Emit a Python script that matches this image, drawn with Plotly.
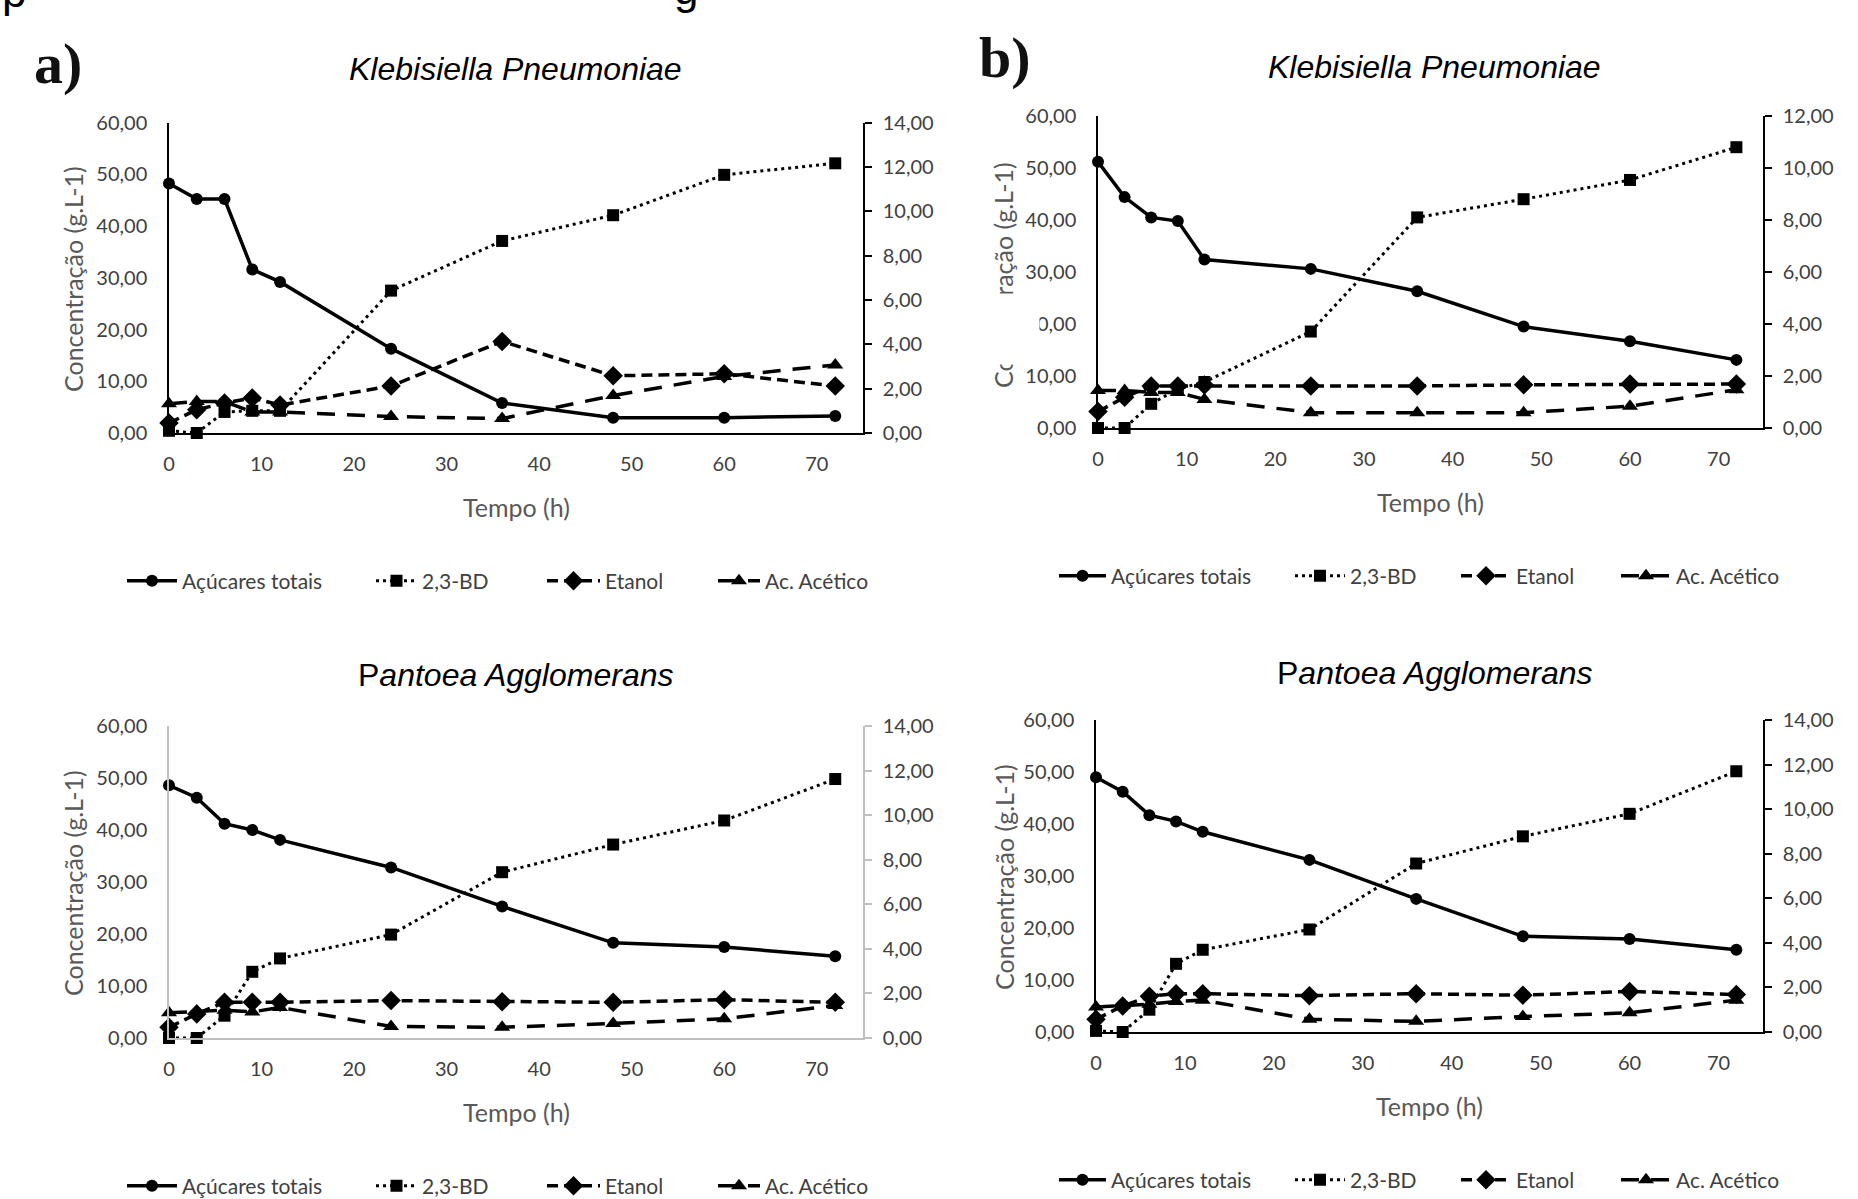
import plotly.graph_objects as go

W, H = 1858, 1199

# ---------------- data ----------------
tempo = [0, 3, 6, 9, 12, 24, 36, 48, 60, 72]
x_ticks = [0, 10, 20, 30, 40, 50, 60, 70]
series_names = ["Açúcares totais", "2,3-BD", "Etanol", "Ac. Acético"]

# a) Klebisiella Pneumoniae
a_acucares = [48.2, 45.2, 45.2, 31.6, 29.2, 16.3, 5.8, 2.95, 2.95, 3.3]
a_bd = [0.1, 0.0, 0.95, 1.0, 1.0, 6.42, 8.66, 9.82, 11.64, 12.16]
a_etanol = [0.45, 1.05, 1.35, 1.58, 1.26, 2.12, 4.13, 2.58, 2.67, 2.12]
a_acetico = [1.32, 1.42, 1.42, 0.95, 0.95, 0.74, 0.65, 1.69, 2.55, 3.07]

# b) Klebisiella Pneumoniae
b_acucares = [51.2, 44.4, 40.5, 39.8, 32.4, 30.6, 26.3, 19.5, 16.7, 13.1]
b_bd = [0.0, 0.0, 0.93, 1.5, 1.77, 3.71, 8.1, 8.8, 9.54, 10.8]
b_etanol = [0.63, 1.18, 1.62, 1.62, 1.65, 1.62, 1.62, 1.66, 1.69, 1.69]
b_acetico = [1.44, 1.44, 1.37, 1.37, 1.1, 0.59, 0.59, 0.59, 0.84, 1.47]

# c) Pantoea Agglomerans
c_acucares = [48.6, 46.2, 41.2, 40.0, 38.1, 32.8, 25.3, 18.3, 17.5, 15.7]
c_bd = [0.0, 0.0, 1.0, 2.97, 3.57, 4.64, 7.44, 8.68, 9.76, 11.62]
c_etanol = [0.48, 1.08, 1.6, 1.6, 1.6, 1.68, 1.63, 1.6, 1.72, 1.6]
c_acetico = [1.13, 1.2, 1.25, 1.17, 1.37, 0.52, 0.48, 0.65, 0.86, 1.46]

# d) Pantoea Agglomerans
d_acucares = [49.0, 46.2, 41.7, 40.5, 38.5, 33.1, 25.6, 18.4, 17.9, 15.8]
d_bd = [0.05, 0.0, 1.0, 3.06, 3.69, 4.6, 7.56, 8.78, 9.79, 11.7]
d_etanol = [0.57, 1.17, 1.6, 1.72, 1.72, 1.63, 1.72, 1.65, 1.82, 1.68]
d_acetico = [1.12, 1.2, 1.25, 1.37, 1.43, 0.57, 0.48, 0.69, 0.86, 1.43]

titles = ["<i>Klebisiella Pneumoniae</i>", "<i>Klebisiella Pneumoniae</i>",
          "P<i>antoea Agglomerans</i>", "P<i>antoea Agglomerans</i>"]
right_max = [14, 12, 14, 14]

panel_data = [
    [a_acucares, a_bd, a_etanol, a_acetico],
    [b_acucares, b_bd, b_etanol, b_acetico],
    [c_acucares, c_bd, c_etanol, c_acetico],
    [d_acucares, d_bd, d_etanol, d_acetico],
]

# ---------------- layout geometry (pixels) ----------------
# (x_left, x_right, y_zero, y_top)
panels_px = [
    (169, 863, 433, 122.5),
    (1098, 1763, 428, 116),
    (169, 863, 1038, 726),
    (1096, 1763, 1032, 720),
]
axis_colors = ["#000000", "#000000", "#BFBFBF", "#000000"]
title_pos = [(515, 69), (1434, 67), (515, 675), (1434, 673)]
ytitle_x = [73, 1003, 73, 1004]
ytitle_y = [279, 275, 883, 877]
xtitle_y = [507, 502, 1112, 1106]
legend_y = [581, 576, 1186, 1180]
legend_marker_x = [[142, 391, 562, 733], [1074, 1310, 1476, 1636],
                   [142, 391, 562, 733], [1074, 1310, 1476, 1636]]
legend_text_x = [[182, 422, 605, 765], [1111, 1350, 1516, 1676],
                 [182, 422, 605, 765], [1111, 1350, 1516, 1676]]

TICK_FONT = dict(family="Lato", size=20, color="#404040")
LABEL_FONT = dict(family="Lato", size=25, color="#595959")


def px_x(v):
    return v / W


def px_y(v):
    return 1 - v / H


styles = [
    dict(line=dict(color="black", width=3.5, dash="solid"),
         marker=dict(symbol="circle", size=12, color="black")),
    dict(line=dict(color="black", width=3, dash="3px,4px"),
         marker=dict(symbol="square", size=12, color="black")),
    dict(line=dict(color="black", width=3.5, dash="11px,6px"),
         marker=dict(symbol="diamond", size=15, color="black")),
    dict(line=dict(color="black", width=3.5, dash="18px,12px"),
         marker=dict(symbol="triangle-up", size=14, color="black")),
]

fig = go.Figure()
layout = dict(
    width=W, height=H, autosize=False,
    margin=dict(l=0, r=0, t=0, b=0, pad=0, autoexpand=False),
    paper_bgcolor="white", plot_bgcolor="white",
    separators=",.",
    showlegend=True,
    annotations=[],
)

for p in range(4):
    xl, xr, y0, y60 = panels_px[p]
    xid = "x" if p == 0 else f"x{p + 1}"
    yl = f"y{2 * p + 1}" if p > 0 else "y"
    yr = f"y{2 * p + 2}"
    xkey = "xaxis" if p == 0 else f"xaxis{p + 1}"
    ylkey = "yaxis" if p == 0 else f"yaxis{2 * p + 1}"
    yrkey = f"yaxis{2 * p + 2}"
    col = axis_colors[p]
    ydom = [px_y(y0), px_y(y60)]
    layout[xkey] = dict(
        domain=[px_x(xl), px_x(xr)], anchor=yl, range=[0, 75],
        tickvals=x_ticks, showline=True, linecolor=col, linewidth=1.5,
        ticks="", showgrid=False, zeroline=False, tickfont=TICK_FONT,
        ticklabelstandoff=12, automargin=False,
    )
    layout[ylkey] = dict(
        domain=ydom, anchor=xid, range=[0, 60], dtick=10, tickformat=".2f",
        showline=True, linecolor=col, linewidth=1.5, ticks="",
        showgrid=False, zeroline=False, tickfont=TICK_FONT,
        ticklabelstandoff=16, automargin=False,
    )
    layout[yrkey] = dict(
        domain=ydom, anchor=xid, overlaying=yl, side="right",
        range=[0, right_max[p]], dtick=2, tickformat=".2f",
        showline=True, linecolor=col, linewidth=1.5,
        ticks="outside", ticklen=7, tickwidth=1.5, tickcolor=col,
        showgrid=False, zeroline=False, tickfont=TICK_FONT,
        ticklabelstandoff=7, automargin=False,
    )

    for s in range(4):
        li = p * 4 + s + 1
        lid = "legend" if li == 1 else f"legend{li}"
        fig.add_trace(go.Scatter(
            x=tempo, y=panel_data[p][s], name=series_names[s],
            mode="lines+markers", xaxis=xid, yaxis=yl if s == 0 else yr,
            line=styles[s]["line"], marker=styles[s]["marker"],
            cliponaxis=False, legend=lid, showlegend=True,
        ))
        mx = legend_marker_x[p][s]
        tx = legend_text_x[p][s]
        layout[lid] = dict(
            x=px_x(mx - 20), xanchor="left", y=px_y(legend_y[p]),
            yanchor="middle", orientation="h",
            itemwidth=max(30, tx - mx + 10),
            font=dict(family="Lato", size=21, color="#404040"),
            bgcolor="rgba(0,0,0,0)", borderwidth=0,
        )

    tx_, ty_ = title_pos[p]
    layout["annotations"].append(dict(
        text=titles[p], x=px_x(tx_), y=px_y(ty_), xref="paper", yref="paper",
        xanchor="center", yanchor="middle", showarrow=False,
        font=dict(family="Liberation Sans", size=32, color="black"),
    ))
    layout["annotations"].append(dict(
        text="Concentração (g.L-1)", x=px_x(ytitle_x[p]),
        y=px_y(ytitle_y[p]), xref="paper", yref="paper",
        xanchor="center", yanchor="middle", textangle=-90, showarrow=False,
        font=LABEL_FONT,
    ))
    layout["annotations"].append(dict(
        text="Tempo (h)", x=px_x((xl + xr) / 2), y=px_y(xtitle_y[p]),
        xref="paper", yref="paper", xanchor="center", yanchor="middle",
        showarrow=False, font=LABEL_FONT,
    ))

# panel labels
layout["annotations"].append(dict(
    text="<b>a)</b>", x=px_x(58), y=px_y(64), xref="paper", yref="paper",
    xanchor="center", yanchor="middle", showarrow=False,
    font=dict(family="Liberation Serif", size=58, color="#111111"),
))
layout["annotations"].append(dict(
    text="<b>b)</b>", x=px_x(1005), y=px_y(57), xref="paper", yref="paper",
    xanchor="center", yanchor="middle", showarrow=False,
    font=dict(family="Liberation Serif", size=58, color="#111111"),
))
# cut-off text fragments at the very top of the page
layout["annotations"].append(dict(
    text="p", x=px_x(0), y=px_y(18), xref="paper", yref="paper",
    xanchor="left", yanchor="bottom", showarrow=False,
    font=dict(family="Liberation Sans", size=44, color="black"),
))
layout["annotations"].append(dict(
    text="g", x=px_x(672), y=px_y(15), xref="paper", yref="paper",
    xanchor="left", yanchor="bottom", showarrow=False,
    font=dict(family="Liberation Sans", size=44, color="black"),
))
# white patch that hides part of panel b's axis label in the original
layout["annotations"].append(dict(
    text=" ", x=px_x(1012), y=px_y(329), xref="paper", yref="paper",
    xanchor="center", yanchor="middle", showarrow=False,
    width=54, height=70, borderpad=0, bgcolor="white",
    font=dict(size=10, color="white"),
))

fig.update_layout(**layout)
fig.write_html("out.html", config={"displayModeBar": False},
               post_script="document.body.style.margin='0';")
